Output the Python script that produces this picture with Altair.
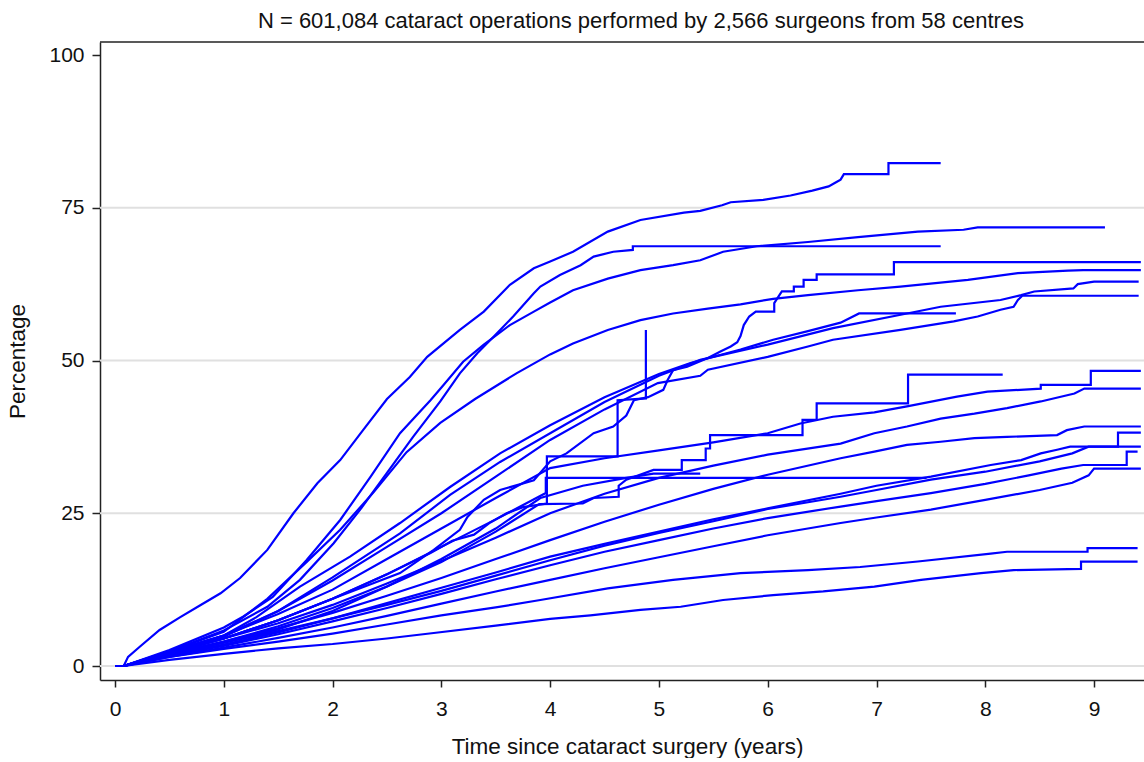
import altair as alt
import pandas as pd

TITLE = "N = 601,084 cataract operations performed by 2,566 surgeons from 58 centres"
X_TITLE = "Time since cataract surgery (years)"
Y_TITLE = "Percentage"
X_TICKS = [0, 1, 2, 3, 4, 5, 6, 7, 8, 9]
Y_TICKS = [0, 25, 50, 75, 100]
GRID_VALUES = [0, 25, 50, 75]

C1_t = [0, 0.08, 0.12, 0.23, 0.41, 0.6, 0.78, 0.97, 1.15, 1.40, 1.64, 1.86, 2.07, 2.28, 2.50, 2.71, 2.87, 3.17, 3.39, 3.63, 3.85, 4.0, 4.21, 4.53, 4.83, 5.23, 5.38, 5.58, 5.66, 5.96, 6.21, 6.41, 6.56, 6.62, 6.67, 6.70, 7.11, 7.11, 7.59]
C1_p = [0, 0, 1.5, 3.2, 5.9, 8.0, 9.9, 11.9, 14.4, 19.0, 25.0, 29.9, 33.7, 38.6, 43.7, 47.3, 50.6, 55.0, 58.0, 62.4, 65.1, 66.2, 67.8, 71.1, 73.0, 74.2, 74.5, 75.4, 75.9, 76.3, 77.0, 77.8, 78.5, 79.1, 79.6, 80.5, 80.5, 82.3, 82.3]

C2_t = [0, 0.08, 0.5, 1.0, 1.40, 1.70, 2.01, 2.25, 2.50, 2.74, 2.99, 3.17, 3.33, 3.48, 3.66, 3.85, 3.91, 4.09, 4.28, 4.40, 4.58, 4.76, 4.76, 7.59]
C2_p = [0, 0, 2.4, 5.8, 9.7, 14.1, 20.1, 25.5, 31.6, 37.5, 43.3, 47.9, 51.2, 53.9, 57.2, 61.0, 62.1, 64.0, 65.6, 67.0, 67.8, 68.1, 68.7, 68.7]

C3_t = [0, 0.08, 0.5, 1.0, 1.18, 1.45, 1.76, 2.07, 2.35, 2.62, 2.90, 3.02, 3.2, 3.39, 3.63, 3.85, 4.0, 4.21, 4.53, 4.83, 5.13, 5.38, 5.59, 5.9, 6.37, 6.83, 7.38, 7.8, 7.93, 9.1]
C3_p = [0, 0, 2.6, 6.3, 8.1, 11.3, 17.3, 23.9, 31.0, 38.1, 43.5, 46.0, 49.8, 52.6, 55.8, 58.0, 59.5, 61.5, 63.4, 64.8, 65.6, 66.4, 67.8, 68.7, 69.4, 70.2, 71.1, 71.4, 71.8, 71.8]

D_t = [0, 0.08, 0.5, 1.0, 1.4, 1.76, 2.07, 2.38, 2.68, 2.99, 3.31, 3.69, 4.0, 4.21, 4.53, 4.83, 5.13, 5.45, 5.75, 6.05, 6.37, 6.83, 7.22, 7.84, 8.3, 8.76, 8.9, 9.43]
D_p = [0, 0, 2.4, 5.6, 11.0, 17.0, 22.3, 28.5, 35.0, 39.8, 43.7, 47.9, 51.0, 52.8, 55.0, 56.6, 57.7, 58.5, 59.2, 60.1, 60.7, 61.5, 62.1, 63.2, 64.3, 64.7, 64.8, 64.8]

E8_t = [0, 0.08, 0.5, 1.0, 1.3, 1.70, 2.16, 2.62, 3.08, 3.54, 4.0, 4.5, 5.0, 5.29, 5.75, 6.05, 6.37, 6.67, 6.84, 7.73]
E8_p = [0, 0, 2.2, 5.0, 8.0, 13.0, 17.9, 23.4, 29.3, 34.8, 39.4, 44.0, 47.8, 49.6, 51.8, 53.4, 54.8, 56.2, 57.7, 57.7]

E6_t = [0, 0.08, 0.5, 1.0, 1.5, 2.0, 2.62, 3.08, 3.54, 4.0, 4.5, 5.0, 5.38, 6.0, 6.6, 7.28, 7.59, 8.14, 8.33, 8.45, 8.81, 8.85, 9.0, 9.41]
E6_p = [0, 0, 2.1, 4.8, 9.0, 14.5, 21.7, 28.0, 33.4, 38.1, 43.2, 47.5, 50.1, 52.6, 55.3, 57.7, 58.8, 59.9, 60.7, 61.3, 61.8, 62.5, 62.9, 62.9]

E7_t = [0, 0.08, 0.5, 1.0, 1.5, 2.0, 2.5, 3.0, 3.5, 4.0, 4.5, 4.99, 5.38, 5.45, 6.0, 6.37, 6.6, 7.22, 7.71, 7.93, 8.14, 8.26, 8.30, 8.34, 9.41]
E7_p = [0, 0, 2.3, 5.0, 9.0, 14.0, 19.5, 25.0, 31.0, 37.0, 42.0, 46.3, 47.5, 48.5, 50.6, 52.3, 53.4, 55.0, 56.4, 57.2, 58.3, 58.8, 59.9, 60.6, 60.6]

S66_t = [0, 0.08, 0.5, 1.0, 1.5, 2.0, 2.62, 2.93, 3.17, 3.24, 3.39, 3.54, 3.85, 4.0, 4.15, 4.4, 4.58, 4.7, 4.77, 4.9, 5.04, 5.08, 5.13, 5.26, 5.45, 5.57, 5.66, 5.72, 5.75, 5.78, 5.83, 5.89, 6.06, 6.06, 6.1, 6.13, 6.24, 6.24, 6.33, 6.33, 6.45, 6.45, 7.16, 7.16, 9.43]
S66_p = [0, 0, 2.0, 4.5, 7.5, 11.0, 15.2, 19.0, 22.3, 24.4, 27.2, 28.8, 30.4, 33.5, 34.8, 38.1, 39.2, 41.0, 43.5, 44.0, 45.2, 46.8, 48.4, 49.0, 50.4, 51.5, 52.3, 53.0, 54.0, 55.8, 57.2, 58.0, 58.0, 59.4, 60.5, 61.3, 61.3, 62.1, 62.1, 63.2, 63.2, 64.1, 64.1, 66.1, 66.1]

SP_t = [0, 0.08, 0.5, 1.0, 1.5, 2.0, 2.5, 2.9, 3.1, 3.3, 3.45, 3.6, 3.75, 3.97, 3.97, 4.62, 4.62, 4.88, 4.88]
SP_p = [0, 0, 2.0, 4.5, 7.5, 11.0, 15.0, 18.5, 20.5, 21.5, 23.5, 25.0, 26.0, 26.6, 34.3, 34.3, 43.5, 43.8, 55.0]

LF_t = [0, 0.08, 0.5, 1.0, 1.5, 2.0, 2.5, 3.0, 3.5, 3.96, 3.96, 7.46]
LF_p = [0, 0, 2.2, 4.5, 7.5, 11.0, 15.0, 19.5, 24.0, 28.3, 30.8, 30.8]

SH_t = [0, 0.08, 0.5, 1.0, 1.5, 2.0, 2.5, 3.0, 3.5, 3.91, 4.3, 4.7, 4.95, 5.38]
SH_p = [0, 0, 1.9, 4.0, 6.5, 9.5, 13.0, 17.5, 22.5, 27.5, 29.5, 30.8, 31.5, 31.5]

S1_t = [0, 0.08, 0.5, 1.0, 1.5, 2.0, 2.5, 3.0, 3.5, 3.9, 4.3, 4.4, 4.63, 4.63, 4.7, 4.95, 5.21, 5.21, 5.43, 5.43, 5.47, 5.47, 6.32, 6.32, 6.45, 6.45, 7.29, 7.29, 8.16]
S1_p = [0, 0, 1.8, 3.8, 6.0, 9.0, 13.0, 17.0, 22.0, 26.5, 26.6, 27.5, 27.7, 29.5, 30.5, 32.1, 32.1, 33.7, 33.7, 35.6, 35.6, 37.8, 37.8, 40.3, 40.3, 43.0, 43.0, 47.7, 47.7]

E10_t = [0, 0.08, 0.5, 1.0, 1.5, 2.0, 2.5, 3.0, 3.5, 4.0, 4.5, 5.0, 5.5, 6.0, 6.3, 6.6, 6.98, 7.28, 7.74, 8.02, 8.51, 8.51, 8.97, 8.97, 9.43]
E10_p = [0, 0, 2.4, 5.0, 8.5, 12.5, 17.5, 22.5, 27.5, 32.4, 34.0, 35.3, 36.6, 38.1, 39.7, 40.8, 41.5, 42.5, 44.1, 44.9, 45.4, 46.0, 46.0, 48.3, 48.3]

E11_t = [0, 0.08, 0.5, 1.0, 1.5, 2.0, 2.5, 3.0, 3.5, 4.0, 4.5, 5.0, 5.5, 6.0, 6.67, 6.98, 7.28, 7.59, 7.9, 8.2, 8.51, 8.82, 8.91, 9.43]
E11_p = [0, 0, 2.2, 4.5, 7.0, 10.0, 13.5, 17.2, 21.0, 25.0, 28.2, 30.8, 32.8, 34.6, 36.4, 38.1, 39.2, 40.5, 41.3, 42.2, 43.3, 44.6, 45.4, 45.4]

E12_t = [0, 0.08, 0.5, 1.0, 1.5, 2.0, 2.5, 3.0, 3.5, 4.0, 4.5, 5.0, 5.5, 6.0, 6.67, 6.98, 7.28, 7.59, 7.9, 8.2, 8.66, 8.75, 8.91, 9.43]
E12_p = [0, 0, 2.0, 4.0, 6.2, 8.7, 11.5, 14.4, 17.5, 20.6, 23.6, 26.4, 29.0, 31.3, 34.0, 35.1, 36.2, 36.7, 37.3, 37.5, 37.8, 38.6, 39.2, 39.2]

F1_t = [0, 0.08, 0.5, 1, 1.5, 2, 2.5, 3, 3.5, 4, 4.5, 5, 5.5, 6, 6.67, 7.0, 7.5, 8.05, 8.33, 8.51, 8.66, 8.78, 9.22, 9.22, 9.43]
F1_p = [0, 0, 1.8, 3.5, 5.5, 7.8, 10.3, 12.8, 15.3, 17.9, 20.0, 22.0, 24.0, 25.8, 28.2, 29.5, 31.0, 32.9, 33.7, 34.8, 35.4, 35.9, 35.9, 38.2, 38.2]

F2_t = [0, 0.08, 0.5, 1, 1.5, 2, 2.5, 3, 3.5, 4, 4.5, 5, 5.5, 6, 6.67, 7.0, 7.5, 8.0, 8.5, 8.8, 8.95, 9.43]
F2_p = [0, 0, 2.0, 3.8, 5.7, 7.8, 10.0, 12.3, 14.8, 17.3, 19.7, 21.8, 23.7, 25.7, 27.7, 28.8, 30.5, 31.8, 33.5, 34.8, 35.9, 35.9]

F3_t = [0, 0.08, 0.5, 1, 1.5, 2, 2.5, 3, 3.5, 4, 4.5, 5, 5.5, 6, 6.67, 7.0, 7.5, 8.0, 8.4, 8.7, 8.9, 9.3, 9.3, 9.40]
F3_p = [0, 0, 1.7, 3.3, 5.2, 7.3, 9.5, 11.8, 14.2, 16.5, 18.7, 20.6, 22.5, 24.2, 26.1, 27.0, 28.3, 29.8, 31.2, 32.3, 32.9, 32.9, 35.1, 35.1]

F4_t = [0, 0.08, 0.5, 1, 1.5, 2, 2.5, 3, 3.5, 4, 4.5, 5, 5.5, 6, 6.67, 7.0, 7.5, 8.0, 8.5, 8.8, 8.95, 9.0, 9.43]
F4_p = [0, 0, 1.5, 3.0, 4.6, 6.3, 8.2, 10.2, 12.2, 14.1, 16.0, 17.8, 19.6, 21.4, 23.4, 24.3, 25.6, 27.2, 28.8, 30.0, 31.2, 32.3, 32.3]

L2_t = [0, 0.08, 0.5, 1, 1.5, 2, 2.5, 3, 3.5, 3.91, 4.53, 5.13, 5.75, 6.37, 6.85, 7.38, 8.05, 8.2, 8.94, 8.94, 9.4]
L2_p = [0, 0, 1.5, 2.8, 4.0, 5.3, 6.8, 8.3, 9.6, 10.8, 12.7, 14.1, 15.2, 15.7, 16.2, 17.1, 18.4, 18.7, 18.7, 19.3, 19.3]

L1_t = [0, 0.08, 0.5, 1.0, 1.5, 2.0, 2.5, 2.93, 3.5, 4.0, 4.37, 4.83, 5.2, 5.59, 6.05, 6.51, 6.98, 7.41, 7.96, 8.26, 8.88, 8.88, 9.4]
L1_p = [0, 0, 1.0, 2.0, 2.9, 3.6, 4.5, 5.4, 6.6, 7.7, 8.3, 9.2, 9.7, 10.8, 11.6, 12.2, 13.0, 14.1, 15.2, 15.7, 15.9, 17.1, 17.1]

CURVES = [
    ("C1", C1_t, C1_p), ("C2", C2_t, C2_p), ("C3", C3_t, C3_p), ("D", D_t, D_p),
    ("E8", E8_t, E8_p), ("E6", E6_t, E6_p), ("E7", E7_t, E7_p), ("S66", S66_t, S66_p),
    ("SP", SP_t, SP_p), ("LF", LF_t, LF_p), ("SH", SH_t, SH_p), ("S1", S1_t, S1_p),
    ("E10", E10_t, E10_p), ("E11", E11_t, E11_p), ("E12", E12_t, E12_p),
    ("F1", F1_t, F1_p), ("F2", F2_t, F2_p), ("F3", F3_t, F3_p), ("F4", F4_t, F4_p),
    ("L2", L2_t, L2_p), ("L1", L1_t, L1_p),
]

rows = []
for name, ts, ps in CURVES:
    assert len(ts) == len(ps), name
    for i, (t, p) in enumerate(zip(ts, ps)):
        rows.append({"curve": name, "t": t, "p": p, "i": i})
df = pd.DataFrame(rows)

W, H = 1044, 638
FONT = "Liberation Sans"
INK = "#111111"
AXC = "#222222"

xscale = alt.Scale(domain=[-0.138, 9.459], nice=False, zero=False)
yscale = alt.Scale(domain=[-2.29, 102.13], nice=False, zero=False)

xaxis = alt.Axis(values=X_TICKS, format="d", title=X_TITLE, grid=False,
                 tickSize=7, tickWidth=1.5, tickColor=AXC,
                 domainColor=AXC, domainWidth=1.5,
                 labelFont=FONT, labelFontSize=21, labelColor=INK, labelPadding=11,
                 titleFont=FONT, titleFontSize=22.5, titleFontWeight="normal", titleColor=INK,
                 titleX=527, titleY=73, titleBaseline="alphabetic", titleAlign="center")
yaxis = alt.Axis(values=Y_TICKS, format="d", title=Y_TITLE, grid=False,
                 tickSize=8, tickWidth=1.5, tickColor=AXC,
                 domainColor=AXC, domainWidth=1.5,
                 labelFont=FONT, labelFontSize=21, labelColor=INK, labelPadding=8,
                 titleFont=FONT, titleFontSize=22.5, titleFontWeight="normal", titleColor=INK,
                 titleAngle=270, titleX=-76, titleY=H / 2, titleBaseline="alphabetic",
                 titleAlign="center")

grid = alt.Chart(pd.DataFrame({"p": GRID_VALUES})).mark_rule(
    color="#e0e0e0", strokeWidth=2
).encode(y=alt.Y("p:Q", scale=yscale, axis=yaxis))

lines = alt.Chart(df).mark_line(color="#0000ff", strokeWidth=2.2).encode(
    x=alt.X("t:Q", scale=xscale, axis=xaxis),
    y=alt.Y("p:Q", scale=yscale, axis=yaxis),
    detail="curve:N",
    order="i:Q",
)

frame_top = alt.Chart(pd.DataFrame({"k": [0]})).mark_rule(color=AXC, strokeWidth=1.5).encode(
    x=alt.value(0), x2=alt.value(W), y=alt.value(0)
)

title = alt.Chart(pd.DataFrame({"k": [0]})).mark_text(
    text=TITLE, font=FONT, fontSize=22, color=INK, align="center", baseline="alphabetic"
).encode(x=alt.value(541), y=alt.value(-13.7))

chart = alt.layer(grid, lines, frame_top, title).properties(
    width=W, height=H,
    autosize=alt.AutoSizeParams(type="none"),
    padding={"left": 100, "top": 42, "right": 0, "bottom": 78},
    background="white",
).configure_view(stroke="transparent")

chart.save("out.html", embed_options={"renderer": "svg", "actions": False})
